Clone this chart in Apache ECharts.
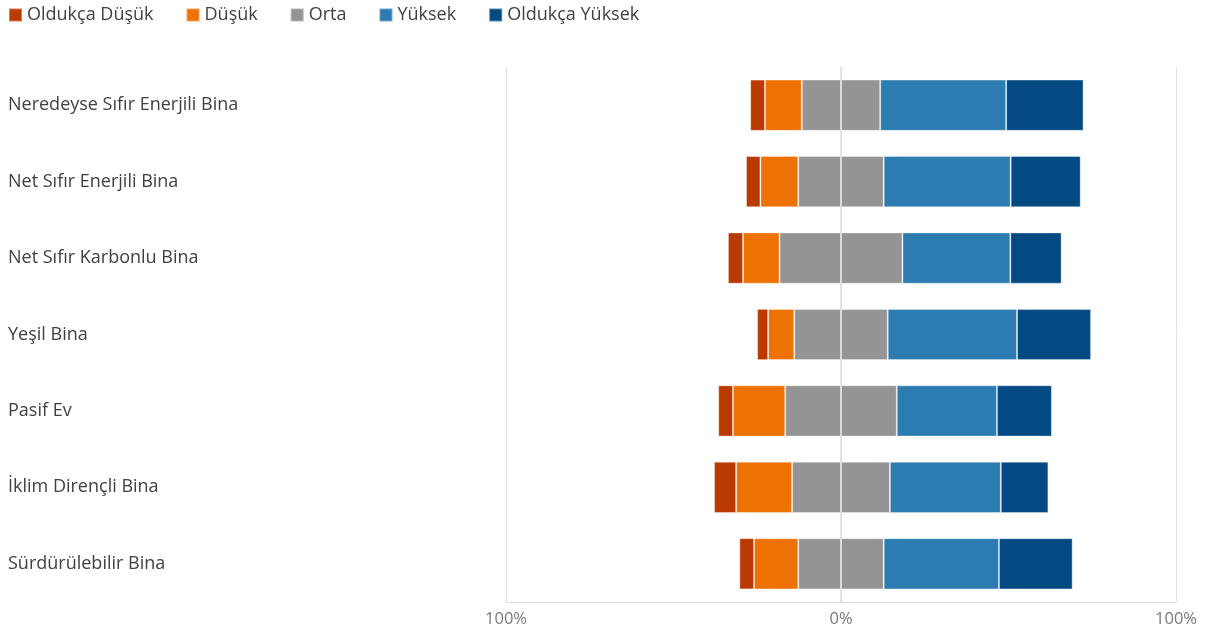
<!DOCTYPE html>
<html><head><meta charset="utf-8">
<script src="https://cdn.jsdelivr.net/npm/echarts@6/dist/echarts.min.js"></script>
<style>html,body{margin:0;padding:0;background:#fff}#c{width:1205px;height:630px}</style>
</head><body><div id="c"></div>
<script>
const categories = ['Neredeyse Sıfır Enerjili Bina','Net Sıfır Enerjili Bina','Net Sıfır Karbonlu Bina','Yeşil Bina','Pasif Ev','İklim Dirençli Bina','Sürdürülebilir Bina'];
const seriesNames = ['Oldukça Düşük','Düşük','Orta','Yüksek','Oldukça Yüksek'];
const olduk_dusuk = [4.4, 4.3, 4.5, 3.3, 4.4, 6.6, 4.4];
const dusuk       = [11.0, 11.3, 10.9, 7.8, 15.6, 16.7, 13.2];
const orta        = [23.4, 25.5, 36.7, 27.9, 33.3, 29.2, 25.5];
const yuksek      = [37.6, 37.9, 32.2, 38.6, 29.9, 33.1, 34.4];
const olduk_yuksek= [23.1, 20.9, 15.3, 22.1, 16.4, 14.2, 22.0];
const tickValues = [-100, 0, 100];

const colors = {'Oldukça Düşük':'#BA3A02','Düşük':'#EE7203','Orta':'#949494','Yüksek':'#2C7BB1','Oldukça Yüksek':'#034A83'};
const FONT = '"Open Sans", sans-serif';
const border = {borderColor:'rgba(255,255,255,0.35)', borderWidth:1};
function bar(name, data, extra){
  return Object.assign({type:'bar', name, stack:'t', data, barCategoryGap:'33%',
    itemStyle:Object.assign({color:colors[name]}, border), emphasis:{disabled:true}}, extra||{});
}
const half = orta.map(v=>v/2);
const series = [
  bar('Orta', half.map(v=>-v)),
  bar('Orta', half),
  bar('Düşük', dusuk.map(v=>-v)),
  bar('Yüksek', yuksek),
  bar('Oldukça Düşük', olduk_dusuk.map(v=>-v)),
  bar('Oldukça Yüksek', olduk_yuksek, {markLine:{silent:true, symbol:'none', label:{show:false},
    lineStyle:{color:'#dcdcdc', width:1.5, type:'solid'}, data:[{xAxis:0}]}})
];
const chart = echarts.init(document.getElementById('c'));
chart.setOption({
  animation:false,
  textStyle:{fontFamily:FONT},
  legend:{data:seriesNames, left:3, top:1, icon:'rect', itemWidth:13, itemHeight:13, itemGap:32,
    textStyle:{fontSize:18, color:'#404040', fontFamily:FONT}},
  grid:{left:506, right:29, top:67, bottom:28},
  xAxis:{type:'value', min:-100, max:100, interval:100,
    axisLine:{show:true, lineStyle:{color:'#dcdcdc'}}, axisTick:{show:false},
    splitLine:{show:true, lineStyle:{color:'#e2e2e2'}},
    axisLabel:{color:'#7a7a7a', fontSize:16.5, margin:9, fontFamily:FONT, formatter:v=>Math.abs(v)+'%'}},
  yAxis:{type:'category', data:categories, inverse:true,
    axisLine:{show:false}, axisTick:{show:false},
    axisLabel:{align:'left', margin:498, color:'#404040', fontSize:18, fontFamily:FONT, padding:[4,0,0,0]}},
  series
});
</script></body></html>
